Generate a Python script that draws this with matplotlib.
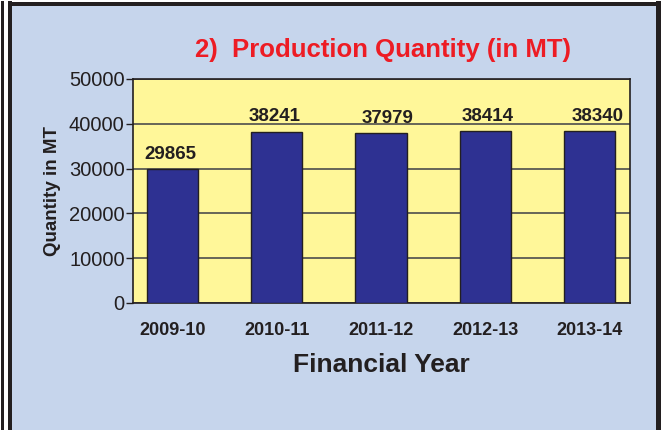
import matplotlib.pyplot as plt
from matplotlib.patches import Rectangle

years = ["2009-10", "2010-11", "2011-12", "2012-13", "2013-14"]
quantity = [29865, 38241, 37979, 38414, 38340]
yticks = [0, 10000, 20000, 30000, 40000, 50000]

# small horizontal nudges of the value labels, as in the original
label_dx = [-0.02, -0.02, 0.06, 0.02, 0.08]

plt.rcParams['font.family'] = ['Liberation Sans', 'DejaVu Sans']

W, H = 667, 430
fig = plt.figure(figsize=(W / 100, H / 100), dpi=100)
fig.patch.set_facecolor('white')

# panel background and frame lines
fig.add_artist(Rectangle((10 / W, 0), (656 - 10) / W, 1 - 4 / H,
                         transform=fig.transFigure, facecolor='#C6D5EC',
                         edgecolor='none', zorder=0))
for x0, x1 in [(1, 4), (8, 12), (656, 661)]:
    fig.add_artist(Rectangle((x0 / W, 0), (x1 - x0) / W, 1 - 1 / H,
                             transform=fig.transFigure, facecolor='#231F20',
                             edgecolor='none', zorder=1))
fig.add_artist(Rectangle((8 / W, 1 - 6 / H), (661 - 8) / W, 4 / H,
                         transform=fig.transFigure, facecolor='#231F20',
                         edgecolor='none', zorder=1))

ax = fig.add_axes([133 / W, 1 - 303 / H, (630 - 133) / W, (303 - 79) / H])
ax.set_facecolor('#FFF799')

x = range(len(years))
ax.bar(x, quantity, width=0.49, color='#2E3192', edgecolor='#231F20',
       linewidth=1, zorder=3)
for i, v in enumerate(quantity):
    ax.text(i + label_dx[i], v + 1400, str(v), ha='center', va='bottom',
            fontsize=13.5, fontweight='bold', color='#231F20', zorder=4)

ax.set_xlim(-0.38, 4.39)
ax.set_ylim(0, 50000)
ax.set_yticks(yticks)
ax.set_yticklabels([str(t) for t in yticks], fontsize=14.5, color='#231F20')
ax.set_xticks(list(x))
ax.set_xticklabels(years, fontsize=13, fontweight='bold', color='#231F20')
ax.tick_params(axis='x', length=0, pad=14)
ax.tick_params(axis='y', length=5, width=1, color='#231F20', pad=1)
ax.grid(axis='y', color='#4D4D4D', linewidth=1.2, zorder=1)
for s in ax.spines.values():
    s.set_color('#231F20')
    s.set_linewidth(1.2)

ax.set_ylabel("Quantity in MT", fontsize=13.5, fontweight='bold',
              color='#231F20', labelpad=6)
ax.set_xlabel("Financial Year", fontsize=19, fontweight='bold',
              color='#231F20', labelpad=10)

fig.text(383 / W, 1 - 50 / H, "2)  Production Quantity (in MT)",
         ha='center', va='center', fontsize=18.5, fontweight='bold',
         color='#ED1C24')

fig.savefig('out.png', dpi=100)
